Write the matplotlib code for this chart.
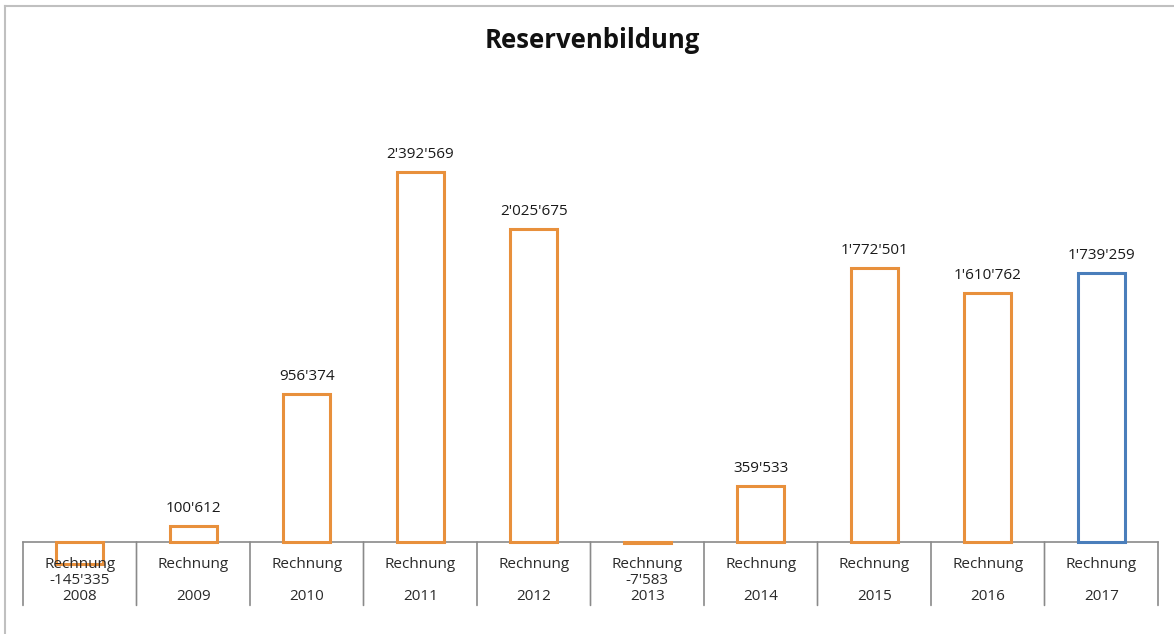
import matplotlib.pyplot as plt
from matplotlib.lines import Line2D

plt.rcParams['font.family'] = ['Open Sans', 'DejaVu Sans']

years = ['2008', '2009', '2010', '2011', '2012', '2013', '2014', '2015', '2016', '2017']
values = [-145335, 100612, 956374, 2392569, 2025675, -7583, 359533, 1772501, 1610762, 1739259]
edge_colors = ['#E8903C'] * 9 + ['#4A7EBB']


def fmt(v):
    return '{:,}'.format(v).replace(',', "'")


fig = plt.figure(figsize=(11.74, 6.34), dpi=100)
ax = fig.add_axes([23 / 1174, 92 / 634, 1135 / 1174, 402 / 634])

x = list(range(len(years)))
bars = ax.bar(x, values, width=0.41, color='white', edgecolor=edge_colors,
              linewidth=2.2, clip_on=False)

ax.set_xlim(-0.5, len(years) - 0.5)
ax.set_ylim(0, 2.6e6)
ax.axis('off')

# value labels above positive bars
for b, v in zip(bars, values):
    if v > 0:
        ax.text(b.get_x() + b.get_width() / 2, v + 0.115e6, fmt(v),
                ha='center', va='center', fontsize=11, color='#1a1a1a')

# category labels below the axis line
for i, (yr, v) in enumerate(zip(years, values)):
    mid = fmt(v) if v < 0 else ''
    ax.annotate('Rechnung', (i, 0), xytext=(0, -22), textcoords='offset pixels',
                ha='center', va='center', fontsize=11, color='#2a2a2a', annotation_clip=False)
    ax.annotate(mid, (i, 0), xytext=(0, -38), textcoords='offset pixels',
                ha='center', va='center', fontsize=11, color='#2a2a2a', annotation_clip=False)
    ax.annotate(yr, (i, 0), xytext=(0, -55), textcoords='offset pixels',
                ha='center', va='center', fontsize=11, color='#2a2a2a', annotation_clip=False)

# axis line and separators
ax.axhline(0, color='#8a8a8a', lw=1.2, clip_on=False, zorder=0)
for i in range(len(years) + 1):
    ax.annotate('', (i - 0.5, 0), xytext=(i - 0.5, -0.41e6), textcoords='data',
                arrowprops=dict(arrowstyle='-', color='#8a8a8a', lw=1.2, shrinkA=0, shrinkB=0),
                annotation_clip=False)

fig.text(592 / 1174, 1 - 40 / 634, 'Reservenbildung', ha='center', va='center',
         fontsize=18.5, fontweight='bold', color='#111111')

# outer frame (top and left)
fig.add_artist(Line2D([5 / 1174, 5 / 1174], [0, 1 - 6 / 634], transform=fig.transFigure,
                      color='#c0c0c0', lw=1.5))
fig.add_artist(Line2D([5 / 1174, 1], [1 - 6 / 634, 1 - 6 / 634], transform=fig.transFigure,
                      color='#c0c0c0', lw=1.5))

fig.savefig('out.png', dpi=100)
